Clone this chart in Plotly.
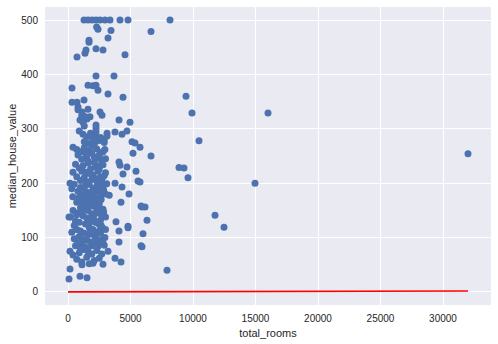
import plotly.graph_objects as go

# total_rooms (x) and median_house_value (y, thousands)
top_x = [1280, 1600, 1920, 2240, 2560, 2960, 3360, 4160, 4800, 8160]
top_y = [500, 500, 500, 500, 500, 500, 500, 500, 500, 500]

upper_x = [2290, 2400, 3440, 6640, 3200, 1680, 1680, 1440, 1360, 2240, 2800, 4560, 720,
           320, 1600, 2000, 2240, 2400, 3200, 4400, 9440, 320, 720, 1280, 800, 800, 1120,
           1600, 2560, 2720, 9920, 16000, 960, 1520, 1760, 1200, 4080, 4960, 2240, 2240,
           3680, 1100, 1400, 1300]
upper_y = [487, 483, 481, 479, 467, 463, 459, 445, 439, 447, 445, 436, 432,
           375, 380, 379, 380, 371, 364, 358, 360, 349, 349, 353, 340, 335, 331,
           336, 331, 325, 329, 329, 316, 318, 322, 312, 316, 312, 307, 397,
           397, 325, 322, 305]

b1_x = [900, 1200, 1500, 1800, 2000, 2200, 2400, 2600, 2900, 2700, 1300, 1700, 2100, 2900,
        2240, 2240, 3120, 3120, 3760, 4320, 4720, 5120, 5360, 400, 5760, 10480]
b1_y = [296, 290, 285, 292, 282, 288, 278, 284, 275, 279, 276, 273, 271, 280,
        301, 294, 292, 287, 294, 290, 296, 276, 274, 266, 266, 278]

b2_x = [700, 1000, 1300, 1500, 1700, 1900, 2100, 2300, 2500, 2800, 3000, 1100, 1600, 2000,
        2700, 2600, 2950, 5200, 6640, 4080, 800, 1400, 2400, 32000]
b2_y = [262, 258, 265, 250, 260, 255, 248, 263, 252, 258, 245, 244, 241, 268,
        242, 256, 262, 255, 250, 239, 252, 255, 246, 254]

b3_x = [600, 900, 1200, 1400, 1600, 1800, 2000, 2200, 2400, 2600, 2800, 3000, 2500, 2750,
        700, 1000, 1300, 1500, 1700, 1900, 2100, 2300, 2500, 2700, 2350, 4160, 4720, 5440,
        4400, 5600, 160, 3760, 5760, 8880, 9280, 9600, 1100, 2900, 400, 14960]
b3_y = [235, 228, 232, 220, 237, 226, 215, 230, 222, 211, 234, 219, 226, 210,
        212, 205, 210, 202, 218, 207, 238, 204, 232, 202, 208, 233, 230, 222,
        217, 204, 200, 200, 202, 229, 228, 210, 222, 214, 220, 200]

b4_x = [300, 500, 800, 1000, 1200, 1400, 1600, 1800, 2000, 2200, 2400, 2600, 2800, 3000,
        2650, 2850, 700, 900, 1100, 1300, 1500, 1700, 1900, 2100, 2300, 2500, 2700, 3100,
        3300, 4320, 4880, 4240, 5840, 6160, 5920, 1250, 1650, 2050, 380]
b4_y = [190, 198, 185, 192, 178, 196, 183, 172, 190, 168, 186, 175, 193, 180,
        170, 187, 165, 174, 163, 188, 166, 198, 162, 178, 195, 162, 185, 199,
        178, 193, 180, 165, 158, 156, 156, 170, 176, 184, 175]

b5_x = [200, 400, 600, 800, 1000, 1200, 1400, 1600, 1800, 2000, 2200, 2400, 2600, 2800,
        3000, 2650, 2850, 500, 900, 1100, 1300, 1500, 1700, 1900, 2100, 2300, 2500, 2700,
        2250, 2450, 3840, 4800, 4800, 6320, 11760, 12480, 80, 1600, 2050, 700]
b5_y = [138, 150, 130, 145, 155, 140, 125, 150, 135, 158, 128, 145, 132, 152,
        138, 122, 147, 122, 128, 148, 156, 136, 126, 144, 132, 152, 124, 140,
        128, 160, 129, 121, 118, 132, 141, 119, 138, 160, 140, 142]

b6_x = [300, 500, 700, 900, 1100, 1300, 1500, 1700, 1900, 2100, 2300, 2500, 2700, 2900,
        2250, 2750, 600, 1000, 1200, 1400, 1600, 1800, 2000, 2200, 2400, 2600, 2800, 3000,
        2950, 4080, 4080, 6000, 5840, 5920, 1800, 800]
b6_y = [110, 98, 115, 102, 88, 108, 95, 118, 85, 104, 92, 112, 96, 86,
        106, 118, 85, 112, 96, 82, 105, 92, 115, 100, 84, 108, 90, 115,
        100, 112, 92, 107, 85, 83, 110, 90]

b7_x = [160, 400, 700, 900, 1100, 1300, 1500, 1700, 1900, 2100, 2300, 2500, 2700, 3200,
        3760, 4240, 2800, 1120, 2000, 160, 7920, 1000, 1600, 80, 960, 1520]
b7_y = [75, 68, 60, 72, 55, 78, 64, 52, 70, 58, 76, 62, 70, 75,
        62, 55, 51, 50, 53, 42, 40, 80, 75, 24, 29, 26]

total_rooms = top_x + upper_x + b1_x + b2_x + b3_x + b4_x + b5_x + b6_x + b7_x
median_house_value = top_y + upper_y + b1_y + b2_y + b3_y + b4_y + b5_y + b6_y + b7_y

# prediction line
line_x = [0, 32000]
line_y = [0.2, 1.8]

x_ticks = [0, 5000, 10000, 15000, 20000, 25000, 30000]
y_ticks = [0, 100, 200, 300, 400, 500]

fig = go.Figure()
fig.add_trace(go.Scatter(x=total_rooms, y=median_house_value, mode="markers",
                         marker=dict(size=7, color="#4C72B0", line=dict(width=0)),
                         showlegend=False))
fig.add_trace(go.Scatter(x=line_x, y=line_y, mode="lines",
                         line=dict(color="#FF0000", width=1.6), showlegend=False))

fig.update_layout(
    width=498, height=344,
    margin=dict(l=45, r=7, t=7, b=39),
    paper_bgcolor="white", plot_bgcolor="#EAEAF2",
    font=dict(family="Liberation Sans, Arial, sans-serif", size=10, color="#262626"),
    xaxis=dict(range=[-1840, 33840], tickvals=x_ticks, ticktext=[str(v) for v in x_ticks],
               showgrid=True, gridcolor="white", gridwidth=1, zeroline=False,
               ticks="outside", ticklen=4, tickcolor="rgba(0,0,0,0)", showline=False,
               title=dict(text="total_rooms", font=dict(size=11), standoff=6)),
    yaxis=dict(range=[-24, 524], tickvals=y_ticks, ticktext=[str(v) for v in y_ticks],
               showgrid=True, gridcolor="white", gridwidth=1, zeroline=False,
               ticks="outside", ticklen=4, tickcolor="rgba(0,0,0,0)", showline=False,
               title=dict(text="median_house_value", font=dict(size=11), standoff=2)),
)

fig.write_html("out.html")
